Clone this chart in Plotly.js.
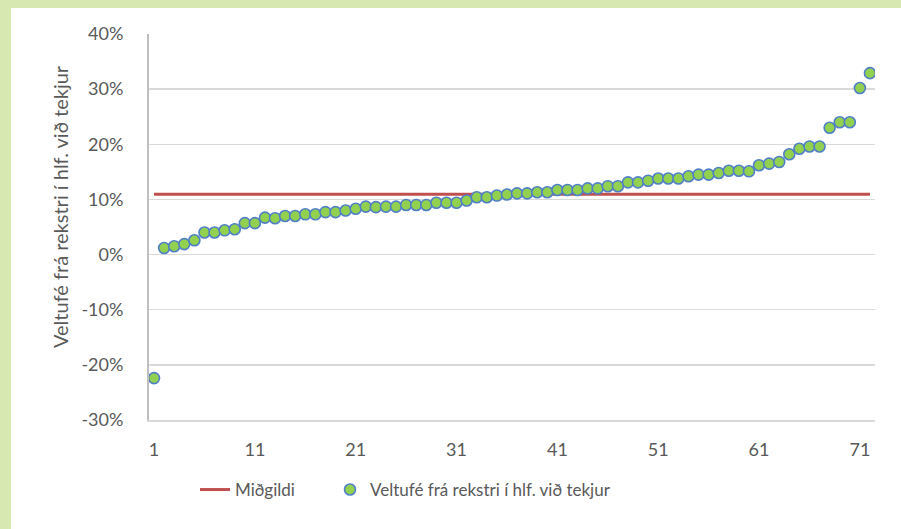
<!DOCTYPE html>
<html>
<head>
<meta charset="utf-8">
<script src="https://cdn.plot.ly/plotly-3.0.1.min.js"></script>
<style>
html,body{margin:0;padding:0;background:#d7e9b1;}
#chart{width:901px;height:529px;}
</style>
</head>
<body>
<div id="chart"></div>
<script>
// Data
const seriesName = 'Veltufé frá rekstri í hlf. við tekjur';
const medianName = 'Miðgildi';
const values = [
  -22.4, 1.2, 1.5, 1.9, 2.6, 4.0, 4.0, 4.4, 4.6, 5.7,
  5.7, 6.7, 6.6, 7.0, 7.0, 7.3, 7.3, 7.7, 7.7, 8.0,
  8.3, 8.7, 8.6, 8.7, 8.7, 9.0, 9.0, 9.0, 9.4, 9.4,
  9.4, 9.8, 10.4, 10.4, 10.7, 10.9, 11.1, 11.1, 11.3, 11.3,
  11.7, 11.7, 11.7, 12.0, 12.0, 12.4, 12.4, 13.1, 13.1, 13.4,
  13.8, 13.8, 13.8, 14.2, 14.5, 14.5, 14.8, 15.2, 15.2, 15.1,
  16.2, 16.5, 16.8, 18.2, 19.2, 19.6, 19.6, 23.0, 24.0, 24.0,
  30.2, 32.9
];
const medianValue = 10.93;
const yTickVals = [-30, -20, -10, 0, 10, 20, 30, 40];
const yTickText = ['-30%', '-20%', '-10%', '0%', '10%', '20%', '30%', '40%'];
const xTickVals = [1, 11, 21, 31, 41, 51, 61, 71];

const xs = values.map((v, i) => i + 1);

const traces = [
  {
    type: 'scatter', mode: 'lines', name: medianName, legend: 'legend',
    x: [xs[0], xs[xs.length - 1]], y: [medianValue, medianValue],
    line: {color: '#c0504d', width: 3}
  },
  {
    type: 'scatter', mode: 'markers', name: seriesName, legend: 'legend2',
    x: xs, y: values,
    marker: {color: '#92d050', size: 11, line: {color: '#4f7fc6', width: 1.6}}
  }
];

const txt = '#595959';
const legendBase = {
  orientation: 'h', xanchor: 'left', yanchor: 'middle', y: -(490 - 420) / 386,
  font: {size: 17, color: txt}, bgcolor: 'rgba(0,0,0,0)', borderwidth: 0
};
const layout = {
  width: 901, height: 529,
  paper_bgcolor: '#d7e9b1',
  plot_bgcolor: '#ffffff',
  margin: {l: 149, r: 26, t: 34, b: 109, pad: 0},
  font: {family: 'Lato, "Open Sans", sans-serif', size: 18, color: txt},
  showlegend: true,
  legend: Object.assign({}, legendBase, {x: (195 - 149) / 726}),
  legend2: Object.assign({}, legendBase, {x: (330 - 149) / 726}),
  xaxis: {
    range: [0.5, 72.5], tickvals: xTickVals, ticktext: xTickVals.map(String),
    showgrid: false, zeroline: false, showline: true, linecolor: '#d9d9d9', linewidth: 1.5,
    ticks: '', ticklabelstandoff: 13, fixedrange: true
  },
  yaxis: {
    range: [-30, 40], tickvals: yTickVals, ticktext: yTickText,
    showgrid: true, gridcolor: '#d9d9d9', gridwidth: 1.5,
    zeroline: false, showline: true, linecolor: '#bfbfbf', linewidth: 2,
    ticks: '', ticklabelstandoff: 20, fixedrange: true
  },
  shapes: [
    {type: 'rect', xref: 'paper', yref: 'paper', layer: 'below',
     x0: (11 - 149) / 726, x1: (901 - 149) / 726,
     y0: -(529 - 420) / 386 - 0.01, y1: (420 - 8) / 386,
     fillcolor: '#ffffff', line: {width: 0}}
  ],
  annotations: [
    {text: 'Veltufé frá rekstri í hlf. við tekjur', textangle: -90,
     xref: 'paper', yref: 'paper', x: (60 - 149) / 726, y: (420 - 207) / 386,
     xanchor: 'center', yanchor: 'middle', showarrow: false,
     font: {size: 20, color: txt}}
  ]
};

Plotly.newPlot('chart', traces, layout, {displayModeBar: false, staticPlot: true});
</script>
</body>
</html>
